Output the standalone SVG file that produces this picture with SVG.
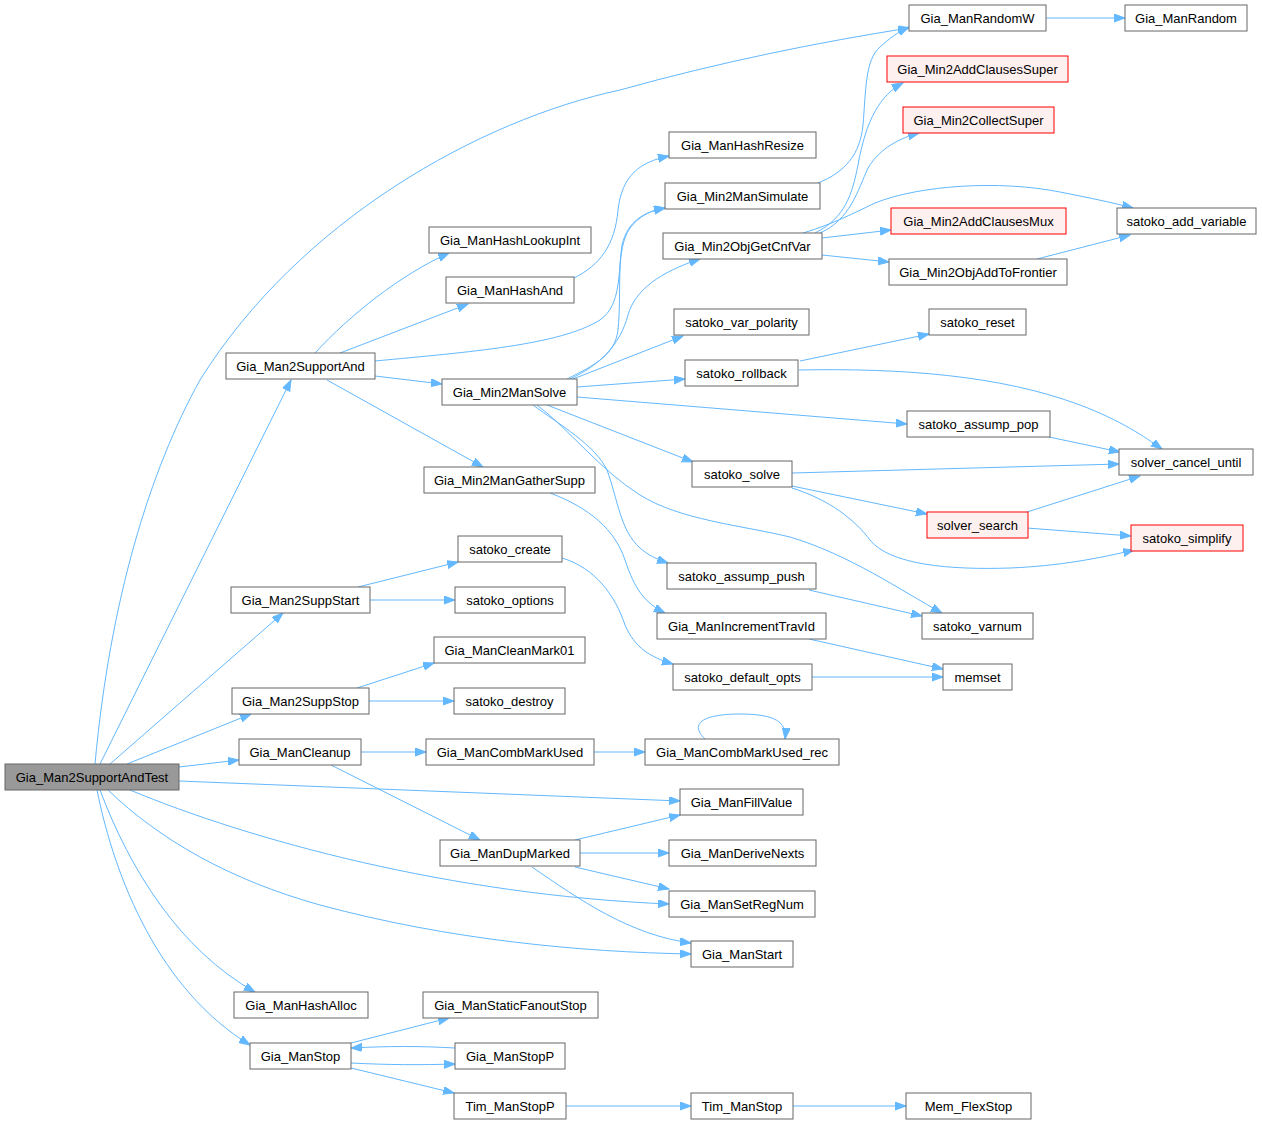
<svg xmlns="http://www.w3.org/2000/svg" width="1262" height="1125" viewBox="0 0 1262 1125">
<style>
.nd rect{fill:#ffffff;stroke:#666666;stroke-width:1}
.rd rect{fill:#fff0f0;stroke:#ff0000;stroke-width:1}
.rt rect{fill:#999999;stroke:#666666;stroke-width:1}
text{font-family:"Liberation Sans",Arial,sans-serif;font-size:13px;text-anchor:middle;fill:#000000}
#edges path{fill:none;stroke:#63b8ff;stroke-width:1;marker-end:url(#arr)}
</style>
<defs>
<marker id="arr" markerUnits="userSpaceOnUse" markerWidth="12" markerHeight="10" refX="11" refY="4" orient="auto">
<path d="M0,0 L11,4 L0,8 z" fill="#63b8ff" stroke="#63b8ff" stroke-width="1"/>
</marker>
</defs>
<rect width="1262" height="1125" fill="#ffffff"/>
<g id="edges">
<path d="M95,764 C 110,600 150,470 200,380 C 300,220 480,120 620,90 C 720,62 820,42 909,28"/>
<path d="M100,764 L291,380"/>
<path d="M110,764 L283,613"/>
<path d="M127,764 L251,714"/>
<path d="M179,767 L239,760"/>
<path d="M179,781 L680,801"/>
<path d="M130,790 C 250,840 450,895 669,904"/>
<path d="M108,790 C 160,840 230,880 320,905 C 450,940 580,952 691,954"/>
<path d="M100,790 C 130,870 180,950 255,992"/>
<path d="M97,790 C 115,880 160,990 250,1045"/>
<path d="M315,353 C 350,315 400,275 449,253"/>
<path d="M340,353 L468,304"/>
<path d="M375,361 C 470,352 560,345 600,320 C 622,305 618,270 622,245 C 628,220 645,212 665,208"/>
<path d="M574,278 C 600,265 615,245 618,210 C 622,175 640,162 669,156"/>
<path d="M567,379 C 595,365 615,355 618,330 C 622,290 615,250 630,228 C 640,215 652,210 665,208"/>
<path d="M570,379 C 600,365 620,345 628,315 C 635,290 660,272 700,259"/>
<path d="M573,379 L683,336"/>
<path d="M577,387 L685,379"/>
<path d="M577,397 L907,424"/>
<path d="M547,405 L693,462"/>
<path d="M533,405 C 560,425 595,445 607,470 C 618,500 620,530 640,548 C 648,555 656,559 668,563"/>
<path d="M537,405 C 570,430 600,470 640,495 C 680,520 740,525 790,537 C 850,555 900,590 942,613"/>
<path d="M327,380 L483,467"/>
<path d="M375,376 L442,384"/>
<path d="M550,493 C 590,508 615,530 625,560 C 635,590 645,603 665,613"/>
<path d="M562,558 C 595,568 615,595 625,625 C 635,648 650,657 673,664"/>
<path d="M818,183 C 845,172 860,155 863,125 C 866,90 865,60 880,47 C 890,38 898,32 909,27"/>
<path d="M815,233 C 845,218 852,195 858,165 C 866,120 880,95 903,83"/>
<path d="M820,233 C 850,220 858,190 868,168 C 880,148 900,138 919,133"/>
<path d="M803,233 C 830,225 850,215 875,203 C 920,185 1000,180 1060,192 C 1090,198 1110,202 1133,208"/>
<path d="M822,238 L891,230"/>
<path d="M822,255 L889,262"/>
<path d="M1037,259 L1130,235"/>
<path d="M1046,18 L1125,18"/>
<path d="M800,361 L929,334"/>
<path d="M799,370 C 900,368 1000,375 1080,405 C 1120,420 1145,437 1162,449"/>
<path d="M1049,437 L1120,452"/>
<path d="M792,473 L1119,464"/>
<path d="M792,486 L927,514"/>
<path d="M792,488 C 830,500 855,520 870,540 C 890,565 950,570 1010,568 C 1060,566 1100,558 1134,550"/>
<path d="M1027,512 L1140,476"/>
<path d="M1027,528 L1131,536"/>
<path d="M809,590 L922,616"/>
<path d="M809,639 L943,669"/>
<path d="M812,677 L943,677"/>
<path d="M358,587 L458,562"/>
<path d="M370,600 L455,600"/>
<path d="M357,688 L434,663"/>
<path d="M369,701 L454,701"/>
<path d="M361,752 L426,752"/>
<path d="M331,765 L480,840"/>
<path d="M594,752 L645,752"/>
<path d="M705,739 C 690,725 700,714 740,714 C 775,714 787,722 785,739"/>
<path d="M575,840 L680,815"/>
<path d="M580,853 L669,853"/>
<path d="M575,867 L669,889"/>
<path d="M532,867 C 580,900 630,935 691,943"/>
<path d="M351,1043 L449,1018"/>
<path d="M455,1048 C 420,1046 390,1046 351,1048"/>
<path d="M351,1063 C 390,1065 420,1065 455,1064"/>
<path d="M351,1068 L454,1093"/>
<path d="M566,1106 L691,1106"/>
<path d="M793,1106 L906,1106"/>
</g>
<g id="n0" class="rt"><rect x="5" y="764" width="174" height="26"/><text x="92" y="781.5">Gia_Man2SupportAndTest</text></g>
<g id="n1" class="nd"><rect x="909" y="5" width="137" height="26"/><text x="977.5" y="22.5">Gia_ManRandomW</text></g>
<g id="n2" class="nd"><rect x="1125" y="5" width="122" height="26"/><text x="1186" y="22.5">Gia_ManRandom</text></g>
<g id="n3" class="rd"><rect x="887" y="56" width="181" height="26"/><text x="977.5" y="73.5">Gia_Min2AddClausesSuper</text></g>
<g id="n4" class="rd"><rect x="903" y="107" width="151" height="26"/><text x="978.5" y="124.5">Gia_Min2CollectSuper</text></g>
<g id="n5" class="nd"><rect x="669" y="132" width="147" height="26"/><text x="742.5" y="149.5">Gia_ManHashResize</text></g>
<g id="n6" class="nd"><rect x="665" y="183" width="155" height="26"/><text x="742.5" y="200.5">Gia_Min2ManSimulate</text></g>
<g id="n7" class="nd"><rect x="663" y="233" width="159" height="26"/><text x="742.5" y="250.5">Gia_Min2ObjGetCnfVar</text></g>
<g id="n8" class="rd"><rect x="891" y="208" width="175" height="26"/><text x="978.5" y="225.5">Gia_Min2AddClausesMux</text></g>
<g id="n9" class="nd"><rect x="1117" y="208" width="139" height="26"/><text x="1186.5" y="225.5">satoko_add_variable</text></g>
<g id="n10" class="nd"><rect x="889" y="259" width="178" height="26"/><text x="978" y="276.5">Gia_Min2ObjAddToFrontier</text></g>
<g id="n11" class="nd"><rect x="429" y="227" width="162" height="26"/><text x="510" y="244.5">Gia_ManHashLookupInt</text></g>
<g id="n12" class="nd"><rect x="446" y="277" width="128" height="26"/><text x="510" y="294.5">Gia_ManHashAnd</text></g>
<g id="n13" class="nd"><rect x="226" y="353" width="149" height="26"/><text x="300.5" y="370.5">Gia_Man2SupportAnd</text></g>
<g id="n14" class="nd"><rect x="442" y="379" width="135" height="26"/><text x="509.5" y="396.5">Gia_Min2ManSolve</text></g>
<g id="n15" class="nd"><rect x="674" y="309" width="135" height="26"/><text x="741.5" y="326.5">satoko_var_polarity</text></g>
<g id="n16" class="nd"><rect x="929" y="309" width="97" height="26"/><text x="977.5" y="326.5">satoko_reset</text></g>
<g id="n17" class="nd"><rect x="685" y="360" width="113" height="26"/><text x="741.5" y="377.5">satoko_rollback</text></g>
<g id="n18" class="nd"><rect x="907" y="411" width="143" height="26"/><text x="978.5" y="428.5">satoko_assump_pop</text></g>
<g id="n19" class="nd"><rect x="1119" y="449" width="134" height="26"/><text x="1186" y="466.5">solver_cancel_until</text></g>
<g id="n20" class="nd"><rect x="692" y="461" width="100" height="26"/><text x="742" y="478.5">satoko_solve</text></g>
<g id="n21" class="nd"><rect x="424" y="467" width="171" height="26"/><text x="509.5" y="484.5">Gia_Min2ManGatherSupp</text></g>
<g id="n22" class="rd"><rect x="927" y="512" width="101" height="26"/><text x="977.5" y="529.5">solver_search</text></g>
<g id="n23" class="rd"><rect x="1131" y="525" width="112" height="26"/><text x="1187" y="542.5">satoko_simplify</text></g>
<g id="n24" class="nd"><rect x="458" y="536" width="104" height="26"/><text x="510" y="553.5">satoko_create</text></g>
<g id="n25" class="nd"><rect x="667" y="563" width="149" height="26"/><text x="741.5" y="580.5">satoko_assump_push</text></g>
<g id="n26" class="nd"><rect x="231" y="587" width="139" height="26"/><text x="300.5" y="604.5">Gia_Man2SuppStart</text></g>
<g id="n27" class="nd"><rect x="455" y="587" width="110" height="26"/><text x="510" y="604.5">satoko_options</text></g>
<g id="n28" class="nd"><rect x="657" y="613" width="169" height="26"/><text x="741.5" y="630.5">Gia_ManIncrementTravId</text></g>
<g id="n29" class="nd"><rect x="922" y="613" width="111" height="26"/><text x="977.5" y="630.5">satoko_varnum</text></g>
<g id="n30" class="nd"><rect x="434" y="637" width="151" height="26"/><text x="509.5" y="654.5">Gia_ManCleanMark01</text></g>
<g id="n31" class="nd"><rect x="673" y="664" width="139" height="26"/><text x="742.5" y="681.5">satoko_default_opts</text></g>
<g id="n32" class="nd"><rect x="943" y="664" width="69" height="26"/><text x="977.5" y="681.5">memset</text></g>
<g id="n33" class="nd"><rect x="232" y="688" width="137" height="26"/><text x="300.5" y="705.5">Gia_Man2SuppStop</text></g>
<g id="n34" class="nd"><rect x="454" y="688" width="111" height="26"/><text x="509.5" y="705.5">satoko_destroy</text></g>
<g id="n35" class="nd"><rect x="239" y="739" width="122" height="26"/><text x="300" y="756.5">Gia_ManCleanup</text></g>
<g id="n36" class="nd"><rect x="426" y="739" width="168" height="26"/><text x="510" y="756.5">Gia_ManCombMarkUsed</text></g>
<g id="n37" class="nd"><rect x="645" y="739" width="194" height="26"/><text x="742" y="756.5">Gia_ManCombMarkUsed_rec</text></g>
<g id="n38" class="nd"><rect x="680" y="789" width="123" height="26"/><text x="741.5" y="806.5">Gia_ManFillValue</text></g>
<g id="n39" class="nd"><rect x="440" y="840" width="140" height="26"/><text x="510" y="857.5">Gia_ManDupMarked</text></g>
<g id="n40" class="nd"><rect x="669" y="840" width="147" height="26"/><text x="742.5" y="857.5">Gia_ManDeriveNexts</text></g>
<g id="n41" class="nd"><rect x="669" y="891" width="146" height="26"/><text x="742" y="908.5">Gia_ManSetRegNum</text></g>
<g id="n42" class="nd"><rect x="691" y="941" width="102" height="26"/><text x="742" y="958.5">Gia_ManStart</text></g>
<g id="n43" class="nd"><rect x="234" y="992" width="134" height="26"/><text x="301" y="1009.5">Gia_ManHashAlloc</text></g>
<g id="n44" class="nd"><rect x="423" y="992" width="175" height="26"/><text x="510.5" y="1009.5">Gia_ManStaticFanoutStop</text></g>
<g id="n45" class="nd"><rect x="250" y="1043" width="101" height="26"/><text x="300.5" y="1060.5">Gia_ManStop</text></g>
<g id="n46" class="nd"><rect x="455" y="1043" width="110" height="26"/><text x="510" y="1060.5">Gia_ManStopP</text></g>
<g id="n47" class="nd"><rect x="454" y="1093" width="112" height="26"/><text x="510" y="1110.5">Tim_ManStopP</text></g>
<g id="n48" class="nd"><rect x="691" y="1093" width="102" height="26"/><text x="742" y="1110.5">Tim_ManStop</text></g>
<g id="n49" class="nd"><rect x="906" y="1093" width="125" height="26"/><text x="968.5" y="1110.5">Mem_FlexStop</text></g>
</svg>
